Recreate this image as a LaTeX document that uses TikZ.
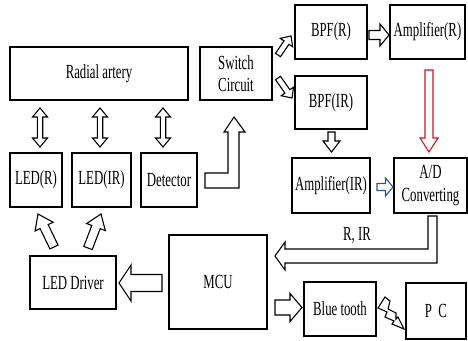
\documentclass[tikz,border=0pt]{standalone}
\usepackage{fontspec}
\newfontfamily\diafont{Liberation Serif}[FakeStretch=0.64]
\usepackage{tikz}
\usetikzlibrary{calc,positioning}

\tikzset{
  box/.style={draw, line width=1.1pt, inner sep=0pt, outer sep=0pt, align=center,
    font=\diafont\fontsize{20}{22.5}\selectfont},
  lbl/.style={font=\diafont\fontsize{20}{22.5}\selectfont, inner sep=0pt},
  blk/.style={draw, line width=1.1pt, fill=white, line join=miter}
}
\definecolor{arrowred}{RGB}{200,25,35}
\definecolor{arrowblue}{RGB}{45,85,140}

% hollow block arrow: [style]{from}{to}{half shaft}{half head}{head length}
\newcommand{\blkarrow}[6][]{%
  \coordinate (ba-s) at (#2);
  \coordinate (ba-e) at (#3);
  \coordinate (ba-h) at ($(ba-e)!#6!(ba-s)$);
  \draw[blk,#1] ($(ba-s)!#4!90:(ba-e)$) -- ($(ba-h)!#4!90:(ba-e)$) -- ($(ba-h)!#5!90:(ba-e)$)
    -- (ba-e) -- ($(ba-h)!#5!-90:(ba-e)$) -- ($(ba-h)!#4!-90:(ba-e)$) -- ($(ba-s)!#4!-90:(ba-e)$) -- cycle;}
% hollow double block arrow
\newcommand{\dblarrow}[6][]{%
  \coordinate (da-s) at (#2);
  \coordinate (da-e) at (#3);
  \coordinate (da-h1) at ($(da-s)!#6!(da-e)$);
  \coordinate (da-h2) at ($(da-e)!#6!(da-s)$);
  \draw[blk,#1] (da-s) -- ($(da-h1)!#5!90:(da-e)$) -- ($(da-h1)!#4!90:(da-e)$) -- ($(da-h2)!#4!90:(da-e)$)
    -- ($(da-h2)!#5!90:(da-e)$) -- (da-e) -- ($(da-h2)!#5!-90:(da-e)$) -- ($(da-h2)!#4!-90:(da-e)$)
    -- ($(da-h1)!#4!-90:(da-e)$) -- ($(da-h1)!#5!-90:(da-e)$) -- cycle;}

\begin{document}
\begin{tikzpicture}[x=1pt, y=-1pt]
  \useasboundingbox (0,0) rectangle (468,340);

  % sensor part
  \node[box, minimum width=178, minimum height=53] (artery) at (99,73.5) {Radial artery};
  \node[box, minimum width=52, minimum height=54] (ledr) at (36,180) {LED(R)};
  \node[box, minimum width=59, minimum height=54] (ledir) at (101.5,180) {LED(IR)};
  \node[box, minimum width=56, minimum height=54] (det) at (169,180) {Detector};
  \node[box, minimum width=72, minimum height=53] (switch) at (236,73.5) {Switch\\Circuit};

  % filters and amplifiers
  \node[box, minimum width=72, minimum height=54] (bpfr) at (331,32) {BPF(R)};
  \node[box, minimum width=75, minimum height=54] (ampr) at (427.5,32) {Amplifier(R)};
  \node[box, minimum width=72, minimum height=53] (bpfir) at (331,102.5) {BPF(IR)};
  \node[box, minimum width=78, minimum height=55] (ampir) at (331,185.5) {Amplifier(IR)};
  \node[box, minimum width=73, minimum height=55] (adc) at (430.5,185.5) {A/D\\Converting};

  % control part
  \node[box, minimum width=86, minimum height=53] (driver) at (73,282.5) {LED Driver};
  \node[box, minimum width=98, minimum height=94] (mcu) at (218,282) {MCU};
  \node[box, minimum width=72, minimum height=54] (bt) at (340,309) {Blue tooth};
  \node[box, minimum width=60, minimum height=56] (pc) at (436,311) {P~~C};

  % artery <-> LEDs / detector
  \dblarrow{$(ledr.north |- artery.south)+(4,8)$}{$(ledr.north)+(4,-6)$}{2.7pt}{7.5pt}{9pt}
  \dblarrow{$(ledir.north |- artery.south)+(-1.5,8)$}{$(ledir.north)+(-1.5,-6)$}{2.7pt}{7.5pt}{9pt}
  \dblarrow{$(det.north |- artery.south)+(-6,8)$}{$(det.north)+(-6,-6)$}{2.7pt}{7.5pt}{9pt}

  % detector -> switch
  \draw[blk] ($(det.east)+(8,-7)$) -- ++(23,0) -- ++(0,-41) -- ++(-4,0) -- ++(10,-15)
    -- ++(11,15) -- ++(-6,0) -- ++(0,56) -- ++(-34,0) -- cycle;

  % switch -> filters
  \blkarrow{$(switch.east)+(6,-18.5)$}{$(bpfr.west)+(-4,4)$}{3pt}{7.5pt}{8pt}
  \blkarrow{$(switch.east)+(6,4.5)$}{$(bpfir.west)+(-3,-4.5)$}{3pt}{7.5pt}{8pt}
  \blkarrow{$(bpfr.east)+(2,3)$}{$(ampr.west)+(-1,3)$}{4.5pt}{11pt}{9pt}
  \blkarrow{$(bpfir.south)+(0.5,3)$}{$(ampir.north)+(0.5,-6)$}{3.5pt}{8.5pt}{11pt}

  % amplifiers -> A/D
  \blkarrow[draw=arrowred]{$(ampr.south)+(1.5,11)$}{$(adc.north)+(-1.5,-6)$}{4pt}{9pt}{14pt}
  \blkarrow[draw=arrowblue]{$(ampir.east)+(7,1.5)$}{$(adc.west)+(-1,1.5)$}{3.5pt}{9pt}{7.5pt}

  % A/D -> MCU
  \draw[blk] ($(adc.south)+(-2.5,3)$) -- ++(9,0) -- ++(0,47) -- ++(-152,0) -- ++(0,7)
    -- ++(-10,-14) -- ++(10,-14) -- ++(0,7) -- ++(143,0) -- cycle;
  \node[lbl] (rir) at (357,235) {R, IR};

  % MCU -> LED driver -> LEDs
  \blkarrow{$(mcu.west)+(-7,1)$}{$(driver.east)+(3,0.5)$}{8.5pt}{18pt}{12pt}
  \blkarrow{$(driver.north)+(-19,-9)$}{$(ledr.south)+(2,7)$}{4.5pt}{10pt}{14pt}
  \blkarrow{$(driver.north)+(15,-8)$}{$(ledir.south)+(-0.5,7)$}{4.5pt}{10pt}{14pt}

  % MCU -> bluetooth, wireless link to PC
  \blkarrow{$(mcu.east)+(8,25.5)$}{$(bt.west)+(-2,-1.5)$}{7.5pt}{14pt}{12pt}
  \draw[blk] (385,297) -- (378,308) -- (387,312) -- (385,317) -- (394,321) -- (392,324)
    -- (404,329) -- (398,317) -- (396,319) -- (396,313) -- (388,309) -- (390,301) -- cycle;

\end{tikzpicture}
\end{document}
